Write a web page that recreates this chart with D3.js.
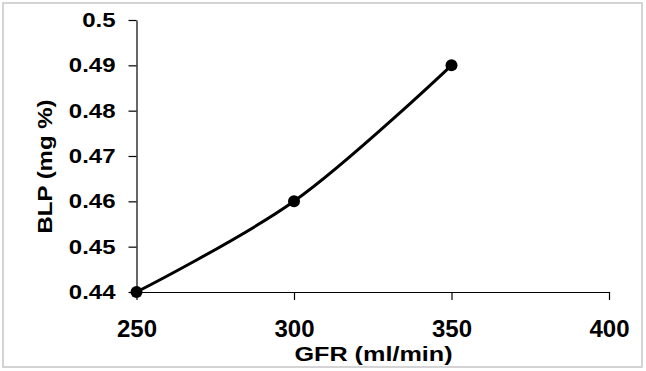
<!DOCTYPE html>
<html>
<head>
<meta charset="utf-8">
<script src="https://cdn.jsdelivr.net/npm/d3@7"></script>
<style>
  body { margin: 0; background: #fff; }
  svg { display: block; }
  text { font-family: "Liberation Sans", Arial, sans-serif; font-weight: bold; fill: #000; }
</style>
</head>
<body>
<div class="chart-container"></div>
<script>
const width = 646, height = 371;

// data
var gfr = [250, 300, 350];
var blp = [0.44, 0.46, 0.49];
var xTicks = [250, 300, 350, 400];
var yTicks = [0.44, 0.45, 0.46, 0.47, 0.48, 0.49, 0.5];

var svg = d3.select(".chart-container")
    .append("svg")
    .attr("width", width)
    .attr("height", height);

// thin grey frame round the picture
svg.append("rect")
    .attr("x", 3).attr("y", 3)
    .attr("width", 639).attr("height", 364)
    .attr("fill", "#fff")
    .attr("stroke", "#d4d4d4")
    .attr("stroke-width", 2);

var x = d3.scaleLinear().domain([250, 400]).range([136.5, 609]);
var y = d3.scaleLinear().domain([0.44, 0.5]).range([292, 20]);

// x axis
var xAxis = svg.append("g")
    .attr("transform", "translate(0," + 292 + ")")
    .call(d3.axisBottom(x).tickValues(xTicks).tickSize(8).tickSizeOuter(0).tickFormat(d3.format("d")));
xAxis.select(".domain").attr("stroke", "#000").attr("stroke-width", 1.2);
xAxis.selectAll(".tick line").attr("stroke", "#000").attr("stroke-width", 1.2);
xAxis.selectAll(".tick text").attr("y", 28).attr("font-size", 24).attr("font-family", null);

// y axis (labels come out a bit wide in the original, hence the scale)
var yAxis = svg.append("g")
    .attr("transform", "translate(" + 136.5 + ",0)")
    .call(d3.axisLeft(y).tickValues(yTicks).tickSize(8).tickSizeOuter(0).tickFormat(d => String(+d.toFixed(2))));
yAxis.select(".domain").attr("stroke", "#000").attr("stroke-width", 1.2);
yAxis.selectAll(".tick line").attr("stroke", "#000").attr("stroke-width", 1.2);
yAxis.selectAll(".tick text")
    .attr("x", 0)
    .attr("transform", "translate(-21,0) scale(1.2,1)")
    .attr("font-size", 20)
    .attr("font-family", null);

// axis titles
svg.append("text")
    .attr("transform", "translate(373.5,361) scale(1.2,1)")
    .attr("text-anchor", "middle")
    .attr("font-size", 21)
    .text("GFR (ml/min)");

svg.append("text")
    .attr("transform", "translate(51.5,166.5) rotate(-90) scale(1.2,1)")
    .attr("text-anchor", "middle")
    .attr("font-size", 20)
    .text("BLP (mg %)");

// smoothed line, like the spreadsheet's
var pts = gfr.map((g, i) => [g, blp[i]]);
var line = d3.line()
    .x(d => x(d[0]))
    .y(d => y(d[1]))
    .curve(d3.curveCatmullRom.alpha(0.5));

svg.append("path")
    .datum(pts)
    .attr("d", line)
    .attr("fill", "none")
    .attr("stroke", "#000")
    .attr("stroke-width", 3);

svg.selectAll("circle.pt")
    .data(pts)
    .enter()
    .append("circle")
    .attr("class", "pt")
    .attr("cx", d => x(d[0]))
    .attr("cy", d => y(d[1]))
    .attr("r", 6)
    .attr("fill", "#000");
</script>
</body>
</html>
